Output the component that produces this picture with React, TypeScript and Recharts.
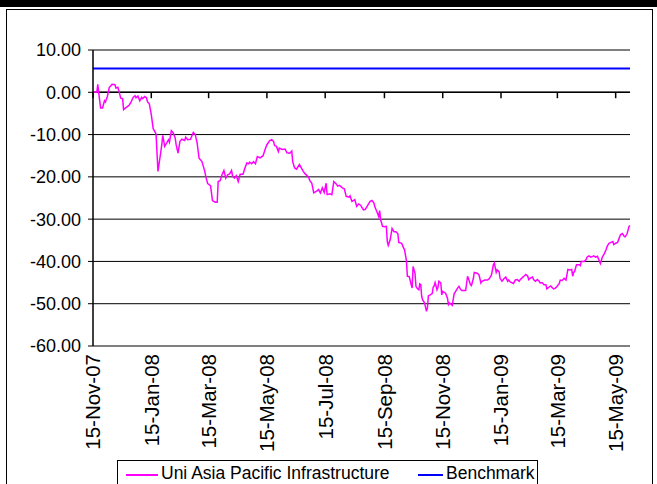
import { LineChart, Line, XAxis, YAxis, CartesianGrid, ReferenceLine } from 'recharts';

// days since fund start (15-Nov-07) and cumulative return in %
const START = '2007-11-15';

const dayOffsets = [
  0, 4, 5, 6, 8, 10, 12, 13, 15, 17,
  20, 23, 24, 26, 27, 29, 31, 32, 34, 36,
  38, 40, 42, 44, 45, 47, 49, 51, 52, 54,
  56, 57, 59, 61, 63, 65, 66, 68, 70, 72,
  73, 75, 77, 79, 80, 82, 84, 86, 87, 89,
  91, 93, 96, 97, 99, 102, 105, 107, 109, 111,
  114, 117, 118, 120, 123, 124, 125, 128, 130, 131,
  133, 135, 137, 139, 141, 143, 145, 146, 148, 150,
  152, 154, 157, 159, 161, 163, 164, 166, 168, 170,
  172, 175, 178, 180, 182, 185, 187, 189, 190, 192,
  194, 195, 198, 201, 203, 206, 208, 209, 211, 213,
  216, 218, 220, 222, 224, 226, 227, 229, 231, 234,
  236, 238, 240, 242, 244, 245, 248, 250, 252, 255,
  256, 258, 261, 263, 265, 268, 269, 271, 274, 276,
  278, 280, 283, 285, 287, 290, 292, 294, 295, 297,
  299, 300, 301, 303, 305, 307, 308, 309, 311, 313,
  315, 317, 319, 320, 323, 325, 326, 328, 329, 331,
  333, 334, 335, 337, 338, 339, 341, 342, 343, 344,
  345, 347, 349, 350, 351, 353, 355, 356, 357, 358,
  360, 361, 362, 364, 365, 366, 369, 371, 372, 373,
  375, 376, 378, 379, 381, 383, 385, 386, 390, 392,
  393, 395, 396, 398, 399, 402, 404, 406, 407, 410,
  413, 415, 417, 419, 420, 422, 423, 425, 426, 428,
  430, 432, 434, 435, 437, 439, 440, 442, 444, 446,
  447, 449, 451, 453, 455, 456, 458, 460, 461, 463,
  465, 467, 468, 470, 472, 474, 475, 477, 479, 481,
  482, 484, 486, 488, 489, 491, 493, 495, 496, 497,
  499, 501, 502, 503, 504, 506, 509, 510, 511, 514,
  516, 517, 519, 521, 523, 524, 526, 528, 529, 531,
  533, 535, 537, 538, 540, 542, 544, 545, 547, 549,
  550, 552, 554, 556, 557, 559, 561, 562,
];

const fundReturns = [
  0, 0, 1.9, -0.2, -3.7, -3.7, -2.0, -2.3, -1.0, 1.1,
  1.9, 1.8, 1.0, 1.2, 0.4, -1.4, -1.5, -4.1, -3.7, -3.4,
  -3.0, -2.2, -1.2, -0.8, -1.3, -0.9, -2.0, -1.2, -1.5, -1.0,
  -1.3, -2.2, -2.8, -5.3, -8.6, -9.4, -9.9, -18.7, -15.6, -12.4,
  -10.2, -12.8, -12.0, -11.2, -11.8, -9.1, -9.6, -10.8, -12.4, -14.4,
  -11.6, -11.1, -11.4, -10.6, -11.2, -11.1, -9.5, -10.0, -12.0, -15.6,
  -16.4, -18.7, -19.9, -21.6, -22.1, -23.8, -25.6, -26.0, -26.0, -21.1,
  -20.9, -19.5, -18.5, -20.3, -19.5, -19.3, -18.5, -19.7, -20.3, -19.7,
  -21.1, -19.4, -19.4, -17.9, -16.7, -16.9, -16.5, -16.9, -16.4, -16.9,
  -15.2, -15.5, -15.0, -13.6, -12.4, -11.4, -11.2, -11.6, -12.6, -12.8,
  -14.0, -13.2, -13.5, -13.4, -14.3, -14.4, -13.9, -16.4, -17.9, -18.2,
  -17.1, -17.9, -18.7, -19.3, -19.7, -20.3, -20.9, -21.5, -23.8, -23.4,
  -23.0, -23.8, -22.6, -23.7, -21.5, -24.2, -24.0, -24.2, -21.1, -21.8,
  -22.2, -22.0, -22.6, -22.8, -24.6, -24.8, -24.5, -25.8, -25.4, -27.0,
  -26.4, -26.7, -27.8, -27.7, -26.9, -25.8, -25.6, -26.2, -27.1, -28.2,
  -29.4, -28.0, -30.1, -31.7, -31.8, -31.7, -35.3, -36.2, -34.9, -32.2,
  -33.0, -33.0, -33.4, -35.5, -35.7, -36.8, -37.2, -39.8, -43.5, -43.6,
  -45.5, -46.3, -41.2, -42.8, -45.9, -46.3, -46.7, -45.3, -45.5, -48.3,
  -49.1, -49.8, -51.8, -51.0, -48.1, -47.9, -47.6, -46.1, -45.8, -45.0,
  -46.7, -46.1, -44.7, -45.1, -47.9, -47.1, -47.5, -48.7, -50.2, -49.8,
  -50.2, -50.4, -47.6, -47.3, -46.5, -45.9, -46.7, -46.9, -46.9, -43.5,
  -44.1, -45.5, -45.7, -44.1, -42.6, -42.8, -43.2, -45.1, -44.7, -44.4,
  -44.4, -44.0, -43.2, -40.8, -40.4, -42.6, -42.0, -42.4, -44.0, -44.7,
  -44.1, -43.7, -44.7, -44.4, -44.9, -45.1, -45.2, -44.4, -44.3, -44.7,
  -44.3, -43.9, -43.5, -43.1, -43.5, -44.3, -43.9, -43.7, -44.3, -44.7,
  -44.3, -44.7, -45.1, -45.0, -45.5, -45.5, -46.5, -46.1, -45.8, -46.3,
  -46.5, -46.3, -45.8, -45.2, -44.4, -44.5, -44.0, -44.4, -43.1, -41.9,
  -42.0, -41.9, -43.5, -42.6, -42.4, -40.8, -40.8, -41.0, -40.0, -40.0,
  -39.6, -39.0, -38.7, -39.0, -38.8, -38.7, -39.0, -38.8, -39.4, -40.5,
  -39.0, -38.2, -37.2, -36.5, -35.7, -35.5, -35.3, -36.0, -35.7, -35.5,
  -34.9, -33.7, -33.4, -34.1, -34.2, -33.4, -31.7, -31.5,
];

const benchmarkReturn = 5.65;

const yTicks = [-60, -50, -40, -30, -20, -10, 0, 10];

const xTickDates = [
  '2007-11-15', '2008-01-15', '2008-03-15', '2008-05-15', '2008-07-15',
  '2008-09-15', '2008-11-15', '2009-01-15', '2009-03-15', '2009-05-15',
];

const MONTHS = ['Jan', 'Feb', 'Mar', 'Apr', 'May', 'Jun', 'Jul', 'Aug', 'Sep', 'Oct', 'Nov', 'Dec'];

const DAY = 86400000;
const startMs = Date.parse(START);
const toOffset = (iso: string) => Math.round((Date.parse(iso) - startMs) / DAY);
const xTicks = xTickDates.map(toOffset);

function formatDay(offset: number) {
  const d = new Date(startMs + offset * DAY);
  return `${d.getUTCDate()}-${MONTHS[d.getUTCMonth()]}-${String(d.getUTCFullYear()).slice(2)}`;
}

const data = dayOffsets.map((day, i) => ({
  day,
  fund: fundReturns[i],
  benchmark: benchmarkReturn,
}));

const FONT = '"Liberation Sans", Arial, sans-serif';

function DateTick({ x, y, payload }: any) {
  return (
    <text
      x={x}
      y={y + 6}
      transform={`rotate(-90, ${x}, ${y + 6})`}
      textAnchor="end"
      dy="0.36em"
      fontSize={20.5}
      fontFamily={FONT}
      fill="#000"
    >
      {formatDay(payload.value)}
    </text>
  );
}

export default function App() {
  return (
    <div style={{ position: 'absolute', left: 0, top: 0, width: 657, height: 484, overflow: 'hidden', background: '#fff' }}>
      <div style={{ position: 'absolute', left: 0, top: 0, width: 657, height: 7, background: '#000' }} />
      <div
        style={{
          position: 'absolute',
          left: 6,
          top: 9,
          width: 647,
          height: 520,
          border: '1.5px solid #000',
          boxSizing: 'border-box',
        }}
      />
      <div style={{ position: 'absolute', left: 0, top: 0 }}>
        <LineChart width={657} height={484} data={data} margin={{ top: 50, right: 27, left: 0, bottom: 28 }}>
          <CartesianGrid vertical={false} stroke="#000" strokeWidth={1} />
          <XAxis
            dataKey="day"
            type="number"
            domain={[0, 562]}
            ticks={xTicks}
            interval={0}
            axisLine={false}
            tickLine={false}
            tickSize={0}
            height={110}
            tick={<DateTick />}
          />
          <YAxis
            domain={[-60, 10]}
            ticks={yTicks}
            interval={0}
            width={93}
            axisLine={{ stroke: '#000', strokeWidth: 1.5 }}
            tickLine={{ stroke: '#000' }}
            tickSize={5}
            tickMargin={7}
            tickFormatter={(v: number) => v.toFixed(2)}
            tick={{ fontSize: 18, fontFamily: FONT, fill: '#000' }}
          />
          <ReferenceLine y={0} stroke="#000" strokeWidth={1.5} />
          {xTicks.map((t) => (
            <ReferenceLine
              key={t}
              segment={[{ x: t, y: 0 }, { x: t, y: -1.4 }]}
              stroke="#000"
              strokeWidth={1.5}
            />
          ))}
          <Line
            type="linear"
            dataKey="benchmark"
            stroke="#0000ff"
            strokeWidth={2}
            dot={false}
            isAnimationActive={false}
          />
          <Line
            type="linear"
            dataKey="fund"
            stroke="#ff00ff"
            strokeWidth={1.5}
            dot={false}
            isAnimationActive={false}
          />
        </LineChart>
      </div>
      <div
        style={{
          position: 'absolute',
          left: 117,
          top: 460,
          width: 421,
          height: 40,
          border: '1px solid #000',
          boxSizing: 'border-box',
          background: '#fff',
          fontFamily: FONT,
          fontSize: 17.5,
          color: '#000',
        }}
      >
        <div style={{ position: 'absolute', left: 8, top: 13, width: 32, height: 2, background: '#ff00ff' }} />
        <div style={{ position: 'absolute', left: 43, top: 2, whiteSpace: 'nowrap' }}>Uni Asia Pacific Infrastructure</div>
        <div style={{ position: 'absolute', left: 300, top: 13, width: 25, height: 2, background: '#0000ff' }} />
        <div style={{ position: 'absolute', left: 328, top: 2, whiteSpace: 'nowrap' }}>Benchmark</div>
      </div>
    </div>
  );
}
